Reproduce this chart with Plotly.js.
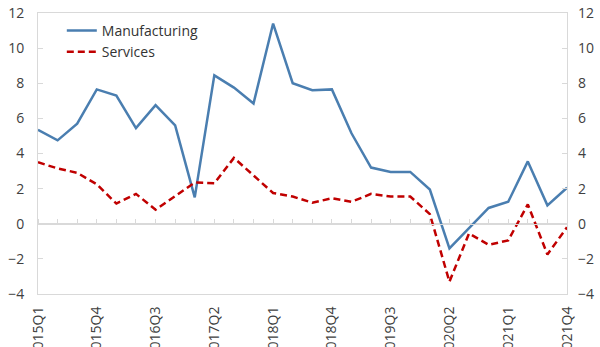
<!DOCTYPE html>
<html>
<head>
<meta charset="utf-8">
<script src="https://cdn.plot.ly/plotly-3.0.1.min.js"></script>
<style>
html,body{margin:0;padding:0;background:#fff;overflow:hidden;}
#chart{width:600px;height:347px;}
</style>
</head>
<body>
<div id="chart"></div>
<script>
const quarters = ['2015Q1','2015Q2','2015Q3','2015Q4','2016Q1','2016Q2','2016Q3','2016Q4',
  '2017Q1','2017Q2','2017Q3','2017Q4','2018Q1','2018Q2','2018Q3','2018Q4',
  '2019Q1','2019Q2','2019Q3','2019Q4','2020Q1','2020Q2','2020Q3','2020Q4',
  '2021Q1','2021Q2','2021Q3','2021Q4'];
const manufacturing = [5.35, 4.75, 5.7, 7.65, 7.3, 5.45, 6.75, 5.6, 1.5, 8.45, 7.75, 6.85,
  11.4, 8.0, 7.6, 7.65, 5.15, 3.2, 2.95, 2.95, 1.95, -1.4, -0.25, 0.9, 1.25, 3.55, 1.05, 2.05];
const services = [3.5, 3.15, 2.9, 2.25, 1.15, 1.7, 0.8, 1.6, 2.35, 2.3, 3.75, 2.75,
  1.75, 1.55, 1.2, 1.45, 1.25, 1.7, 1.55, 1.55, 0.55, -3.3, -0.55, -1.2, -0.95, 1.1, -1.75, -0.2];
const tickLabels = ['2015Q1','2015Q4','2016Q3','2017Q2','2018Q1','2018Q4','2019Q3','2020Q2','2021Q1','2021Q4'];
const yTicks = [-4, -2, 0, 2, 4, 6, 8, 10, 12];

const FONT = '"Open Sans", "Noto Sans", sans-serif';
const GRAY = '#d9d9d9';
const TXT = '#404040';

const traces = [
  {x: [], y: [], type: 'scatter', mode: 'lines', xaxis: 'x2', yaxis: 'y', showlegend: false, hoverinfo: 'skip'},
  {x: quarters, y: manufacturing, name: 'Manufacturing', type: 'scatter', mode: 'lines',
   line: {color: '#4a7eb0', width: 2.5}, xaxis: 'x', yaxis: 'y', hoverinfo: 'skip'},
  {x: quarters, y: services, name: 'Services', type: 'scatter', mode: 'lines',
   line: {color: '#c00000', width: 2.5, dash: '7px,4px'}, xaxis: 'x', yaxis: 'y2', hoverinfo: 'skip'}
];

const layout = {
  width: 600, height: 347,
  margin: {l: 38, r: 33, t: 13, b: 53, pad: 0},
  paper_bgcolor: '#fff', plot_bgcolor: '#fff',
  font: {family: FONT, size: 14, color: TXT},
  showlegend: true,
  legend: {x: 0.045, y: 0.993, xanchor: 'left', yanchor: 'top', bgcolor: 'rgba(0,0,0,0)',
    font: {family: FONT, size: 14, color: '#333'}, tracegroupgap: 0, itemwidth: 30},
  xaxis: {type: 'category', range: [0, 27], tickmode: 'array', tickvals: tickLabels, ticktext: tickLabels,
    tickangle: -90, ticks: '', showline: true, linecolor: GRAY, linewidth: 1, mirror: true,
    showgrid: false, zeroline: false, tickfont: {family: FONT, size: 14, color: TXT},
    ticklabelstandoff: 6, automargin: false, fixedrange: true},
  xaxis2: {overlaying: 'x', anchor: 'free', position: 0.25, side: 'top', type: 'linear',
    range: [0, 27], tickmode: 'linear', tick0: 0, dtick: 1, ticks: 'outside', ticklen: 5,
    tickcolor: GRAY, tickwidth: 1, showline: true, linecolor: GRAY, linewidth: 1,
    showticklabels: false, showgrid: false, zeroline: false, fixedrange: true},
  yaxis: {range: [-4, 12], tickmode: 'array', tickvals: yTicks, ticks: 'inside', ticklen: 5,
    tickcolor: GRAY, showline: true, linecolor: GRAY, mirror: 'ticks', showgrid: false,
    zeroline: true, zerolinecolor: GRAY, zerolinewidth: 1,
    tickfont: {family: FONT, size: 14, color: TXT}, ticklabelstandoff: 10,
    automargin: false, fixedrange: true},
  yaxis2: {overlaying: 'y', side: 'right', anchor: 'x', range: [-4, 12], tickmode: 'array', tickvals: yTicks,
    ticks: '', showline: false, showgrid: false, zeroline: false,
    tickfont: {family: FONT, size: 14, color: TXT}, ticklabelstandoff: 10, automargin: false, fixedrange: true}
};

Plotly.newPlot('chart', traces, layout, {displayModeBar: false, staticPlot: true});
</script>
</body>
</html>
